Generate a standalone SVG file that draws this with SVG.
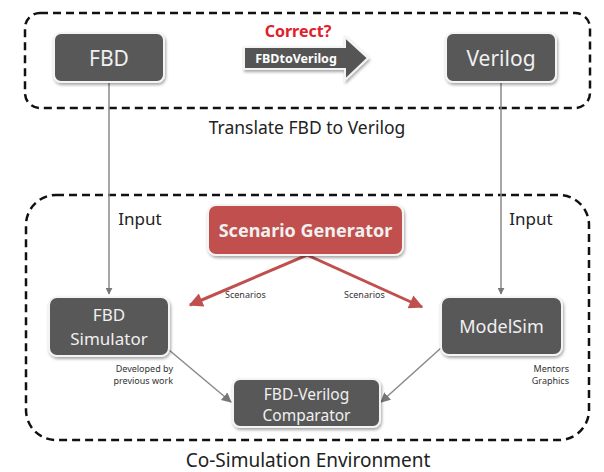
<svg xmlns="http://www.w3.org/2000/svg" width="604" height="472" viewBox="0 0 604 472">
<defs>
<filter id="sh" x="-10%" y="-10%" width="125%" height="135%">
<feDropShadow dx="1" dy="2" stdDeviation="1.5" flood-color="#000" flood-opacity="0.35"/>
</filter>
<marker id="ga" viewBox="0 0 10 10" refX="9" refY="5" markerWidth="7" markerHeight="7" markerUnits="userSpaceOnUse" orient="auto">
<path d="M0,0 L10,5 L0,10 z" fill="#777"/>
</marker>
<marker id="gb" viewBox="0 0 10 10" refX="9" refY="5" markerWidth="10" markerHeight="10" markerUnits="userSpaceOnUse" orient="auto">
<path d="M0,0 L10,5 L0,10 z" fill="#777"/>
</marker>
<marker id="ra" viewBox="0 0 10 10" refX="9" refY="5" markerWidth="18" markerHeight="14" markerUnits="userSpaceOnUse" orient="auto">
<path d="M0,0 L10,5 L0,10 z" fill="#c0504d"/>
</marker>
</defs>
<style>
.dash{fill:none;stroke:#111;stroke-width:2.5;stroke-dasharray:8 5}
.box{fill:#595959;stroke:#f4f4f4;stroke-width:2;filter:url(#sh)}
.red{fill:#c0504d;stroke:#f4f4f4;stroke-width:2;filter:url(#sh)}
.bt{font-family:"Noto Sans","Open Sans",sans-serif;fill:#f0f0f0;text-anchor:middle}
.lbl{font-family:"Noto Sans","Open Sans",sans-serif;fill:#222;text-anchor:middle}
.sm{font-family:"Noto Sans","Open Sans",sans-serif;fill:#333;font-size:9px}
.gl{fill:none;stroke:#8a8a8a;stroke-width:1.5}
.rl{fill:none;stroke:#c0504d;stroke-width:3}
</style>
<rect width="604" height="472" fill="#ffffff"/>
<g id="frames">
<rect class="dash" x="25" y="13" width="565" height="95" rx="15"/>
<rect class="dash" x="26" y="195" width="563" height="245" rx="30"/>
<text class="lbl" x="307" y="134" font-size="17.5">Translate FBD to Verilog</text>
<text class="lbl" x="308" y="467" font-size="19">Co-Simulation Environment</text>
</g>
<g id="connectors">
<line class="gl" x1="109" y1="82" x2="109" y2="294" marker-end="url(#ga)"/>
<line class="gl" x1="501" y1="82" x2="501" y2="294" marker-end="url(#ga)"/>
<line class="gl" x1="169" y1="350" x2="231" y2="402" marker-end="url(#gb)"/>
<line class="gl" x1="441" y1="348" x2="381" y2="402" marker-end="url(#gb)"/>
<line class="rl" x1="307" y1="255" x2="190" y2="305" marker-end="url(#ra)"/>
<line class="rl" x1="307" y1="255" x2="422" y2="307" marker-end="url(#ra)"/>
<text class="lbl" x="140" y="225" font-size="17">Input</text>
<text class="lbl" x="531" y="225" font-size="17">Input</text>
<text class="sm" x="225" y="298">Scenarios</text>
<text class="sm" x="344" y="298">Scenarios</text>
<text class="sm" x="173" y="372" text-anchor="end">Developed by</text>
<text class="sm" x="173" y="384" text-anchor="end">previous work</text>
<text class="sm" x="569" y="372" text-anchor="end">Mentors</text>
<text class="sm" x="569" y="384" text-anchor="end">Graphics</text>
</g>
<g id="translate-arrow">
<path d="M244,47 L345,47 L345,37 L368,58 L345,80 L345,69 L244,69 z" fill="#555" stroke="#f4f4f4" stroke-width="2" filter="url(#sh)"/>
<text x="296" y="63" font-family="'Noto Sans','Open Sans',sans-serif" font-size="12.5" font-weight="bold" fill="#ffffff" text-anchor="middle">FBDtoVerilog</text>
<text x="298" y="37" font-family="'Noto Sans','Open Sans',sans-serif" font-size="16" font-weight="bold" fill="#e0202a" text-anchor="middle">Correct?</text>
</g>
<g id="fbd">
<rect class="box" x="54" y="33" width="110" height="49" rx="7"/>
<text class="bt" x="109" y="66" font-size="21">FBD</text>
</g>
<g id="verilog">
<rect class="box" x="446" y="33" width="110" height="49" rx="7"/>
<text class="bt" x="501" y="66" font-size="21">Verilog</text>
</g>
<g id="scenario-generator">
<rect class="red" x="208" y="205" width="195" height="50" rx="8"/>
<text class="bt" x="305.5" y="237" font-size="18" font-weight="bold" fill="#f4f4f4">Scenario Generator</text>
</g>
<g id="fbd-simulator">
<rect class="box" x="49" y="297" width="120" height="59" rx="8"/>
<text class="bt" x="109" y="321" font-size="17">FBD</text>
<text class="bt" x="109" y="345" font-size="17">Simulator</text>
</g>
<g id="modelsim">
<rect class="box" x="441" y="297" width="121" height="58" rx="8"/>
<text class="bt" x="501.5" y="333" font-size="18">ModelSim</text>
</g>
<g id="comparator">
<rect class="box" x="233" y="379" width="147" height="48" rx="7"/>
<text class="bt" x="306.5" y="400" font-size="15.5">FBD-Verilog</text>
<text class="bt" x="306.5" y="421" font-size="15.5">Comparator</text>
</g>
</svg>
